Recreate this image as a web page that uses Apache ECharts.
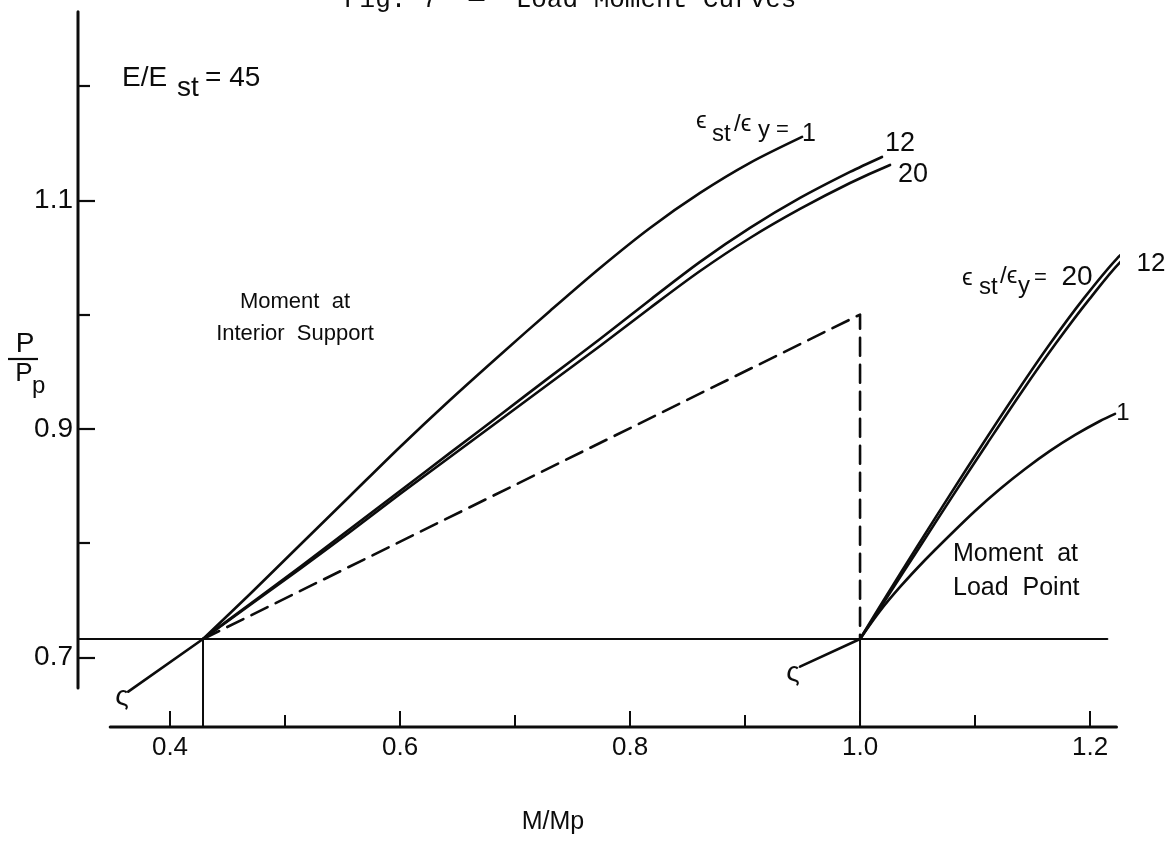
<!DOCTYPE html>
<html><head><meta charset="utf-8">
<script src="https://cdn.jsdelivr.net/npm/echarts@6/dist/echarts.min.js"></script>
<style>html,body{margin:0;padding:0;background:#fff}#c{width:1165px;height:841px}</style>
</head><body><div id="c"></div>
<script>
// ---- tick values / labels ----
const xMajorTicks = [0.4, 0.6, 0.8, 1.0, 1.2];
const xMinorTicks = [0.5, 0.7, 0.9, 1.1];
const xTickLabels = ['0.4', '0.6', '0.8', '1.0', '1.2'];
const yMajorTicks = [0.7, 0.9, 1.1];
const yMinorTicks = [0.8, 1.0, 1.2];
const yTickLabels = ['0.7', '0.9', '1.1'];

// ---- axis extents (data units) ----
const xRange = [0.32, 1.2243];
const yRange = [0.6392, 1.2647];
const xAxisLine = [[0.348, 0.6392], [1.223, 0.6392]];
const yAxisLine = [[0.32, 0.6733], [0.32, 1.265]];

// ---- moment at interior support (M/Mp, P/Pp) ----
const interiorEps1 = [[0.4287,0.7162],[0.4696,0.7556],[0.5130,0.7984],[0.5565,0.8413],[0.6,0.8842],[0.6435,0.9253],[0.6870,0.9647],[0.7304,1.0032],[0.7739,1.0408],[0.8174,1.0758],[0.8609,1.1064],[0.9043,1.1327],[0.9496,1.1554]];
const interiorEps12 = [[0.4287,0.7162],[0.4696,0.7468],[0.5130,0.7792],[0.5565,0.8124],[0.6,0.8457],[0.6435,0.8790],[0.6870,0.9122],[0.7304,0.9455],[0.7739,0.9787],[0.8174,1.0128],[0.8609,1.0461],[0.9043,1.0758],[0.9478,1.1020],[0.9913,1.1248],[1.0191,1.1379]];
const interiorEps20 = [[0.4287,0.7162],[0.4696,0.7459],[0.5130,0.7774],[0.5565,0.8098],[0.6,0.8430],[0.6435,0.8754],[0.6870,0.9078],[0.7304,0.9401],[0.7739,0.9725],[0.8174,1.0058],[0.8609,1.0381],[0.9043,1.0670],[0.9478,1.0924],[0.9913,1.1151],[1.0261,1.1309]];
const interiorElastic = [[0.3637,0.6701],[0.4287,0.7162]];
const interiorDrop = [[0.4287,0.7162],[0.4287,0.6392]];

// ---- moment at load point ----
const loadEps1 = [[1.0,0.7162],[1.0174,0.7407],[1.0348,0.7617],[1.0565,0.7853],[1.0783,0.8072],[1.1,0.8282],[1.1217,0.8474],[1.1435,0.8649],[1.1652,0.8807],[1.1870,0.8947],[1.2087,0.9069],[1.2217,0.9131]];
const loadEps12 = [[1.0,0.7162],[1.0217,0.7498],[1.0517,0.7965],[1.0813,0.8425],[1.1109,0.8877],[1.1404,0.9321],[1.17,0.9744],[1.1996,1.0137],[1.2291,1.0488],[1.2461,1.0574]];
const loadEps20 = [[1.0,0.7162],[1.0203,0.7498],[1.0493,0.7965],[1.0783,0.8425],[1.1072,0.8877],[1.1363,0.9321],[1.1652,0.9744],[1.1942,1.0137],[1.2232,1.0488],[1.2406,1.0635]];
const loadElastic = [[0.9478,0.6920],[1.0,0.7162]];
const loadDrop = [[1.0,0.7162],[1.0,0.6392]];

// ---- reference lines ----
const plasticLimit = [[0.4287,0.7162],[1.0,1.0],[1.0,0.7162]];
const yieldLoad = [[0.32,0.7162],[1.215,0.7162]];

const FONT = '"Liberation Sans", "DejaVu Sans", Arial, sans-serif';
const INK = '#0c0c0c';

function pick(v, ticks, labels) {
  for (let i = 0; i < ticks.length; i++) if (Math.abs(ticks[i] - v) < 1e-6) return labels[i];
  return '';
}
function line(data, width, type, smooth) {
  return { type: 'line', data: data, symbol: 'none', smooth: smooth ? 0.3 : false, clip: false,
    silent: true, animation: false,
    lineStyle: { color: INK, width: width, type: type || 'solid', cap: 'round', join: 'round' } };
}
function txt(x, y, s, size, align, family) {
  return { type: 'text', x: x, y: y, silent: true,
    style: { text: s, font: size + 'px ' + (family || FONT), fill: INK,
      align: align || 'left', textAlign: align || 'left', verticalAlign: 'middle', textVerticalAlign: 'middle' } };
}

const chart = echarts.init(document.getElementById('c'), null, { renderer: 'canvas' });
const axisCommon = { type: 'value', axisLine: { show: false }, splitLine: { show: false } };
chart.setOption({
  animation: false,
  backgroundColor: '#fff',
  grid: { left: 78, right: 47, top: 12, bottom: 114, containLabel: false },
  xAxis: [
    Object.assign({}, axisCommon, { min: xRange[0], max: xRange[1], position: 'bottom',
      axisTick: { show: true, inside: true, length: 16, customValues: xMajorTicks, lineStyle: { color: INK, width: 2 } },
      axisLabel: { show: true, customValues: xMajorTicks, formatter: v => pick(v, xMajorTicks, xTickLabels),
        color: INK, fontSize: 26, fontFamily: FONT, margin: 8 } }),
    Object.assign({}, axisCommon, { min: xRange[0], max: xRange[1], position: 'bottom',
      axisTick: { show: true, inside: true, length: 12, customValues: xMinorTicks, lineStyle: { color: INK, width: 2 } },
      axisLabel: { show: false } })
  ],
  yAxis: [
    Object.assign({}, axisCommon, { min: yRange[0], max: yRange[1], position: 'left',
      axisTick: { show: true, inside: true, length: 17, customValues: yMajorTicks, lineStyle: { color: INK, width: 2.2 } },
      axisLabel: { show: true, customValues: yMajorTicks, formatter: v => pick(v, yMajorTicks, yTickLabels),
        color: INK, fontSize: 28, fontFamily: FONT, margin: 5 } }),
    Object.assign({}, axisCommon, { min: yRange[0], max: yRange[1], position: 'left',
      axisTick: { show: true, inside: true, length: 12, customValues: yMinorTicks, lineStyle: { color: INK, width: 2.2 } },
      axisLabel: { show: false } })
  ],
  series: [
    line(xAxisLine, 3),
    line(yAxisLine, 3),
    line(yieldLoad, 2.2),
    line(interiorDrop, 2),
    line(loadDrop, 2),
    line(plasticLimit, 2.6, [18, 9]),
    line(interiorElastic, 2.6),
    line(loadElastic, 2.6),
    line(interiorEps1, 2.6, 'solid', true),
    line(interiorEps12, 2.6, 'solid', true),
    line(interiorEps20, 2.6, 'solid', true),
    line(loadEps1, 2.6, 'solid', true),
    line(loadEps12, 2.6, 'solid', true),
    line(loadEps20, 2.6, 'solid', true)
  ],
  graphic: [
    // clipped caption at the top edge
    txt(344, 0, 'Fig. 7  \u2014  Load Moment Curves', 26, 'left', '"Liberation Mono", "DejaVu Sans Mono", monospace'),
    // E/Est = 45
    txt(122, 78, 'E/E', 28),
    txt(177, 88, 'st', 28),
    txt(205, 78, '= 45', 28),
    // y-axis title P/Pp
    txt(25, 344, 'P', 28, 'center'),
    { type: 'line', silent: true, shape: { x1: 8, y1: 359, x2: 38, y2: 359 }, style: { stroke: INK, lineWidth: 2.2 } },
    txt(24, 374, 'P', 26, 'center'),
    txt(32, 386, 'p', 24),
    // x-axis title
    txt(553, 822, 'M/Mp', 25, 'center'),
    // interior support labels
    txt(295, 302, 'Moment  at', 22, 'center'),
    txt(295, 334, 'Interior  Support', 22, 'center'),
    txt(696, 121, '\u03f5', 24),
    txt(712, 134, 'st', 24),
    txt(734, 124, '/\u03f5', 24),
    txt(758, 130, 'y', 24),
    txt(776, 130, '=', 22),
    txt(809, 134, '1', 25, 'center'),
    txt(900, 144, '12', 27, 'center'),
    txt(913, 175, '20', 27, 'center'),
    // load point labels
    txt(953, 554, 'Moment  at', 25),
    txt(953, 588, 'Load  Point', 25),
    txt(962, 278, '\u03f5', 24),
    txt(979, 287, 'st', 24),
    txt(1000, 276, '/\u03f5', 24),
    txt(1018, 286, 'y', 24),
    txt(1034, 278, '=', 22),
    txt(1077, 277, '20', 28, 'center'),
    txt(1151, 264, '12', 26, 'center'),
    txt(1123, 413, '1', 24, 'center'),
    // break marks at the lower ends of the elastic branches
    txt(122, 697, '\u03c2', 28, 'center'),
    txt(793, 673, '\u03c2', 28, 'center')
  ]
});
</script>
</body></html>
